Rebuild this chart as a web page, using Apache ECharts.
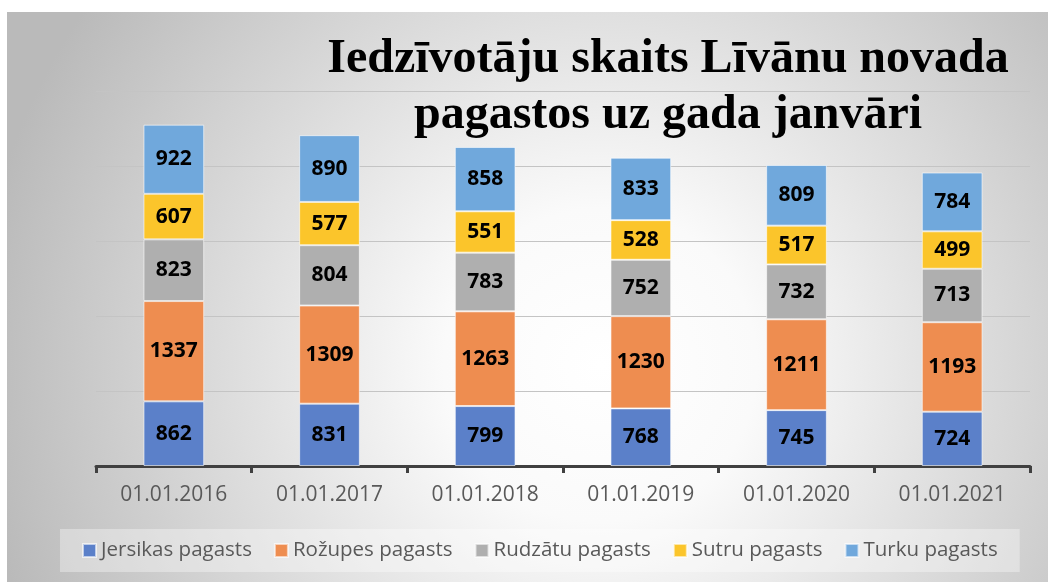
<!DOCTYPE html>
<html>
<head>
<meta charset="utf-8">
<script src="https://cdn.jsdelivr.net/npm/echarts@6/dist/echarts.min.js"></script>
<style>
  html, body { margin: 0; padding: 0; background: #fff; }
  #chart { width: 1048px; height: 582px; }
</style>
</head>
<body>
<div id="chart"></div>
<script>
const categories = ['01.01.2016', '01.01.2017', '01.01.2018', '01.01.2019', '01.01.2020', '01.01.2021']
const jersikas = [862, 831, 799, 768, 745, 724]
const rozupes = [1337, 1309, 1263, 1230, 1211, 1193]
const rudzatu = [823, 804, 783, 752, 732, 713]
const sutru = [607, 577, 551, 528, 517, 499]
const turku = [922, 890, 858, 833, 809, 784]

const chart = echarts.init(document.getElementById('chart'))

// krāsas un nosaukumi sērijām
const seriesDefs = [
  { name: 'Jersikas pagasts', data: jersikas, color: '#5b80c9' },
  { name: 'Rožupes pagasts', data: rozupes, color: '#ee8d50' },
  { name: 'Rudzātu pagasts', data: rudzatu, color: '#afafaf' },
  { name: 'Sutru pagasts', data: sutru, color: '#fbc52b' },
  { name: 'Turku pagasts', data: turku, color: '#70a8dc' }
]

const option = {
  animation: false,
  graphic: [
    {
      type: 'rect',
      z: -10,
      silent: true,
      shape: { x: 7, y: 12, width: 1041, height: 570 },
      style: {
        fill: {
          type: 'radial',
          x: 0.57,
          y: 0.62,
          r: 1.1,
          colorStops: [
            { offset: 0, color: '#ffffff' },
            { offset: 0.25, color: '#fafafa' },
            { offset: 1, color: '#bababa' }
          ]
        }
      }
    }
  ],
  title: {
    text: 'Iedzīvotāju skaits Līvānu novada\npagastos uz gada janvāri',
    left: 668,
    top: 32,
    padding: 0,
    textAlign: 'center',
    textStyle: {
      fontFamily: 'Liberation Serif',
      fontWeight: 'bold',
      fontSize: 48,
      lineHeight: 56,
      color: '#000'
    }
  },
  legend: {
    bottom: 10,
    left: 60,
    itemWidth: 13,
    itemHeight: 13,
    itemGap: 22,
    padding: [11, 22],
    backgroundColor: 'rgba(255,255,255,0.35)',
    icon: 'rect',
    textStyle: {
      fontFamily: 'Open Sans',
      fontSize: 20.5,
      color: '#595959',
      padding: [0, 0, 0, 0]
    },
    data: seriesDefs.map(s => s.name)
  },
  grid: {
    left: 96,
    right: 18,
    top: 91,
    bottom: 116
  },
  xAxis: {
    type: 'category',
    data: categories,
    axisLine: { lineStyle: { color: '#404040', width: 3 } },
    axisTick: { show: true, length: 7, lineStyle: { color: '#404040', width: 3 } },
    axisLabel: {
      fontFamily: 'Open Sans',
      fontSize: 21,
      color: '#595959',
      margin: 19
    }
  },
  yAxis: {
    type: 'value',
    min: 0,
    max: 5000,
    interval: 1000,
    axisLabel: { show: false },
    axisLine: { show: false },
    axisTick: { show: false },
    splitLine: { lineStyle: { color: '#c4c4c4', width: 1 } }
  },
  series: seriesDefs.map(s => ({
    name: s.name,
    type: 'bar',
    stack: 'total',
    barWidth: '39%',
    data: s.data,
    itemStyle: {
      color: s.color,
      borderColor: 'rgba(255,255,255,0.6)',
      borderWidth: 1
    },
    label: {
      show: true,
      position: 'inside',
      fontFamily: 'Open Sans',
      fontWeight: 'bold',
      fontSize: 21,
      color: '#000'
    }
  }))
}

chart.setOption(option)
</script>
</body>
</html>
